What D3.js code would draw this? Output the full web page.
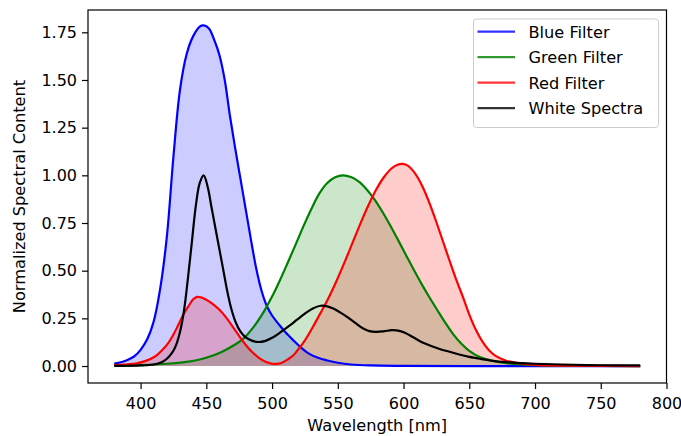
<!DOCTYPE html>
<html>

<head>
  <meta charset="utf-8" />
  <script src="https://cdn.jsdelivr.net/npm/d3@7"></script>
  <style>
    body {
      margin: 0;
      background: #fff;
    }

    text {
      font-family: "DejaVu Sans", sans-serif;
      fill: #000;
    }

    .curve {
      fill: none;
      stroke-width: 2.2px;
      stroke-linejoin: round;
    }
  </style>
</head>

<body>
</body>
<script>
  "use strict";

  // values
  var blueNm = [380, 385, 390, 395, 400, 405, 410, 415, 420, 425, 430, 435, 440, 445, 448, 452, 456, 460, 464, 468, 472, 476, 480, 484, 488, 492, 496, 500, 505, 510, 516, 522, 528, 535, 542, 550, 560, 575, 600, 650, 780];
  var blueVal = [0.013, 0.02, 0.032, 0.05, 0.085, 0.14, 0.235, 0.41, 0.68, 1.10, 1.45, 1.635, 1.73, 1.78, 1.786, 1.77, 1.71, 1.63, 1.50, 1.31, 1.14, 0.98, 0.82, 0.66, 0.51, 0.395, 0.315, 0.265, 0.22, 0.178, 0.136, 0.097, 0.065, 0.043, 0.029, 0.017, 0.008, 0.003, 0.001, 0, 0];

  var greenNm = [380, 400, 420, 435, 445, 455, 462, 470, 478, 486, 494, 500, 506, 512, 518, 524, 530, 536, 542, 548, 554, 560, 566, 572, 578, 584, 590, 596, 602, 608, 614, 620, 626, 632, 638, 644, 650, 658, 668, 678, 690, 700, 720, 780];
  var greenVal = [0.002, 0.005, 0.012, 0.022, 0.034, 0.055, 0.075, 0.105, 0.142, 0.205, 0.288, 0.364, 0.45, 0.543, 0.638, 0.735, 0.825, 0.905, 0.96, 0.99, 1.0, 0.991, 0.967, 0.926, 0.873, 0.808, 0.736, 0.659, 0.58, 0.502, 0.427, 0.357, 0.29, 0.225, 0.165, 0.117, 0.08, 0.047, 0.027, 0.015, 0.008, 0.005, 0.002, 0];

  var redNm = [380, 390, 397, 404, 411, 416, 421, 425, 429, 433, 437, 440, 443, 446, 450, 455, 460, 465, 470, 475, 480, 485, 490, 495, 500, 503, 507, 512, 516, 520, 525, 531, 537, 543, 549, 555, 561, 567, 573, 579, 585, 591, 595, 599, 603, 607, 611, 615, 620, 625, 630, 635, 640, 645, 650, 655, 660, 665, 670, 678, 688, 700, 720, 780];
  var redVal = [0.005, 0.009, 0.014, 0.027, 0.05, 0.08, 0.12, 0.165, 0.22, 0.275, 0.32, 0.35, 0.363, 0.36, 0.348, 0.325, 0.295, 0.255, 0.207, 0.157, 0.11, 0.072, 0.043, 0.022, 0.012, 0.011, 0.016, 0.035, 0.055, 0.088, 0.135, 0.205, 0.28, 0.358, 0.446, 0.542, 0.643, 0.744, 0.839, 0.923, 0.99, 1.037, 1.054, 1.06, 1.052, 1.026, 0.986, 0.932, 0.849, 0.754, 0.653, 0.552, 0.454, 0.365, 0.27, 0.19, 0.128, 0.083, 0.053, 0.028, 0.014, 0.006, 0.002, 0];

  var whiteNm = [380, 400, 410, 416, 420, 424, 427, 430, 433, 436, 439, 442, 445, 448, 451, 454, 457, 460, 463, 466, 469, 472, 476, 480, 485, 490, 495, 500, 507, 513, 519, 525, 531, 537, 542, 547, 552, 557, 563, 569, 574, 579, 585, 591, 596, 601, 607, 614, 621, 628, 635, 643, 650, 658, 668, 678, 690, 700, 720, 750, 780];
  var whiteVal = [0.001, 0.003, 0.008, 0.02, 0.038, 0.07, 0.11, 0.18, 0.29, 0.46, 0.65, 0.84, 0.96, 1.0, 0.94, 0.83, 0.72, 0.61, 0.50, 0.39, 0.30, 0.235, 0.18, 0.15, 0.132, 0.126, 0.132, 0.148, 0.18, 0.21, 0.243, 0.275, 0.302, 0.316, 0.313, 0.30, 0.28, 0.258, 0.228, 0.198, 0.183, 0.179, 0.182, 0.188, 0.186, 0.174, 0.152, 0.125, 0.105, 0.088, 0.075, 0.059, 0.048, 0.038, 0.027, 0.02, 0.015, 0.012, 0.008, 0.004, 0.003];

  var seriesNames = ["Blue Filter", "Green Filter", "Red Filter", "White Spectra"];
  var seriesColors = ["#0000ff", "#008000", "#ff0000", "#000000"];
  var xTicks = [400, 450, 500, 550, 600, 650, 700, 750, 800];
  var yTicks = [0, 0.25, 0.5, 0.75, 1.0, 1.25, 1.5, 1.75];

  function zipSeries(nm, val) {
    return nm.map(function(d, i) {
      return { nm: d, v: val[i] };
    });
  }

  var series = [
    zipSeries(blueNm, blueVal),
    zipSeries(greenNm, greenVal),
    zipSeries(redNm, redVal),
    zipSeries(whiteNm, whiteVal)
  ];

  var width = 681,
    height = 436;
  var margin = {
    top: 10,
    right: 14.5,
    bottom: 53,
    left: 88
  };
  var fontSize = "16.2px";

  var x = d3.scaleLinear().domain([360, 800]).range([margin.left, width - margin.right]);
  var y = d3.scaleLinear().domain([-0.089, 1.867]).range([height - margin.bottom, margin.top]);

  var svg = d3.select("body")
    .append("svg")
    .attr("width", width)
    .attr("height", height);

  var line = d3.line()
    .curve(d3.curveCatmullRom.alpha(0.5))
    .x(function(d) { return x(d.nm); })
    .y(function(d) { return y(d.v); });

  var area = d3.area()
    .curve(d3.curveCatmullRom.alpha(0.5))
    .x(function(d) { return x(d.nm); })
    .y0(y(0))
    .y1(function(d) { return y(d.v); });

  // filled areas for the three filters, then all lines on top
  svg.selectAll("path.fill")
    .data(series.slice(0, 3))
    .enter()
    .append("path")
    .attr("class", "fill")
    .attr("d", area)
    .attr("fill", function(d, i) { return seriesColors[i]; })
    .attr("fill-opacity", 0.2);

  svg.selectAll("path.curve")
    .data(series)
    .enter()
    .append("path")
    .attr("class", "curve")
    .attr("d", line)
    .attr("stroke", function(d, i) { return seriesColors[i]; });

  // axes
  var xAxis = d3.axisBottom(x).tickValues(xTicks).tickSize(6).tickPadding(5).tickFormat(d3.format("d"));
  var yAxis = d3.axisLeft(y).tickValues(yTicks).tickSize(6).tickPadding(5).tickFormat(d3.format(".2f"));

  var gx = svg.append("g")
    .attr("transform", "translate(0," + (height - margin.bottom) + ")")
    .call(xAxis);
  var gy = svg.append("g")
    .attr("transform", "translate(" + margin.left + ",0)")
    .call(yAxis);

  [gx, gy].forEach(function(g) {
    g.select(".domain").remove();
    g.selectAll(".tick line").attr("stroke", "#000").attr("stroke-width", 1.2);
    g.selectAll(".tick text").attr("font-size", "16px").attr("font-family", "DejaVu Sans").attr("fill", "#000");
  });
  gx.selectAll(".tick text").attr("dy", "0.95em");

  svg.append("rect")
    .attr("x", margin.left)
    .attr("y", margin.top)
    .attr("width", width - margin.left - margin.right)
    .attr("height", height - margin.top - margin.bottom)
    .attr("fill", "none")
    .attr("stroke", "#000")
    .attr("stroke-width", 1.2);

  svg.append("text")
    .attr("x", (margin.left + width - margin.right) / 2)
    .attr("y", 431)
    .attr("text-anchor", "middle")
    .attr("font-size", fontSize)
    .text("Wavelength [nm]");

  svg.append("text")
    .attr("transform", "translate(25," + (margin.top + (height - margin.top - margin.bottom) / 2) + ") rotate(-90)")
    .attr("text-anchor", "middle")
    .attr("font-size", fontSize)
    .text("Normalized Spectral Content");

  // legend
  var legend = svg.append("g").attr("transform", "translate(473.5,19)");
  legend.append("rect")
    .attr("width", 185)
    .attr("height", 108.5)
    .attr("rx", 3)
    .attr("fill", "#fff")
    .attr("fill-opacity", 0.8)
    .attr("stroke", "#cccccc")
    .attr("stroke-width", 1);

  var item = legend.selectAll("g.item")
    .data(seriesNames)
    .enter()
    .append("g")
    .attr("class", "item")
    .attr("transform", function(d, i) { return "translate(0," + (12.7 + i * 25.5) + ")"; });

  item.append("line")
    .attr("x1", 4)
    .attr("x2", 41.5)
    .attr("stroke", function(d, i) { return seriesColors[i]; })
    .attr("stroke-width", 2.2)
    .attr("stroke-opacity", 0.8);

  item.append("text")
    .attr("x", 55)
    .attr("y", 6)
    .attr("font-size", fontSize)
    .text(function(d) { return d; });
</script>

</html>
